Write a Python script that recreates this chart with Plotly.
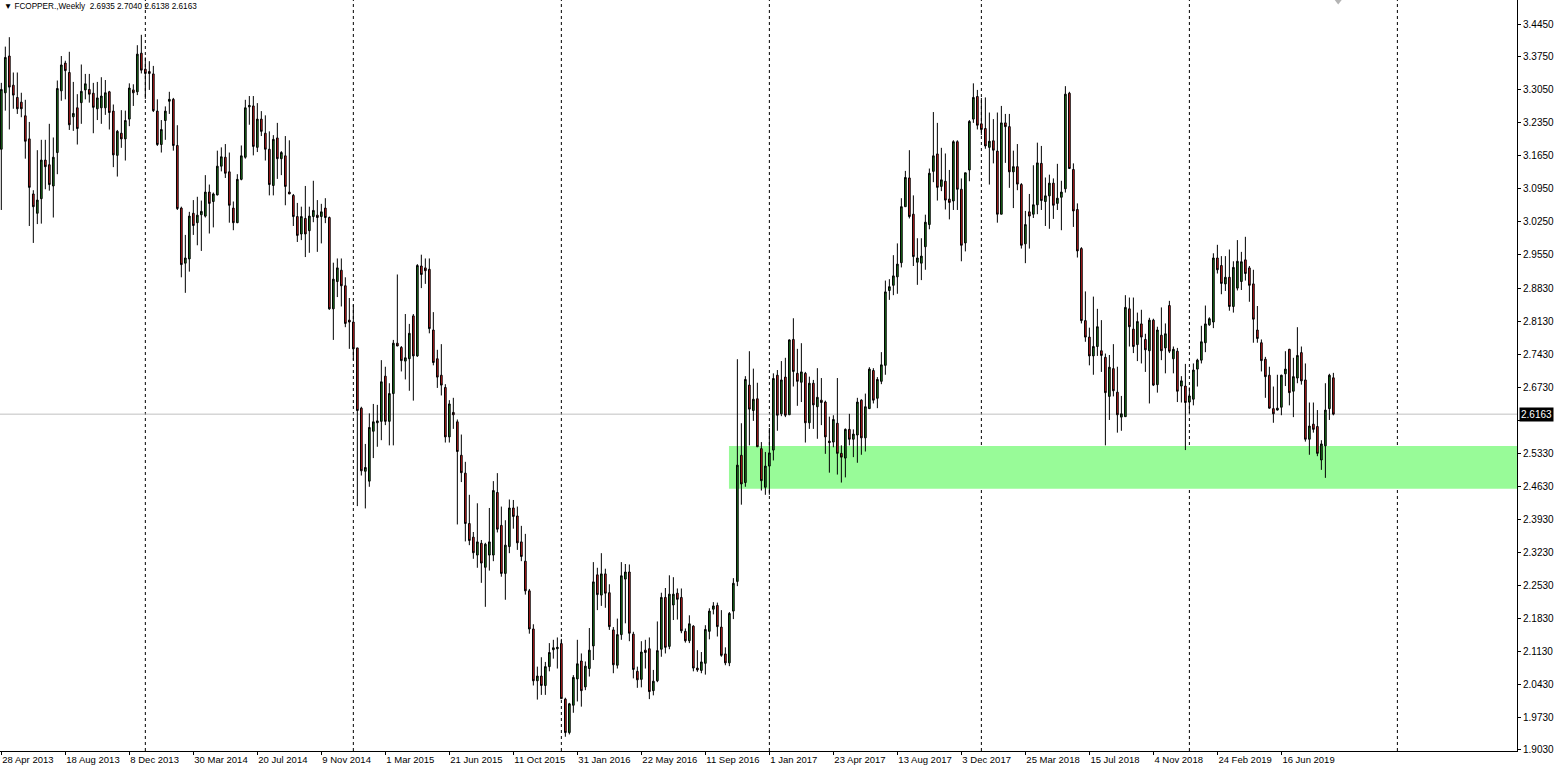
import pandas as pd
import plotly.graph_objects as go

# ---------------- data (weekly OHLC, FCOPPER) ----------------
start_date = "2013-04-28"

opens = [
    3.179, 3.299, 3.377, 3.315, 3.289, 3.279, 3.250, 3.201, 3.084, 3.043,
    3.074, 3.156, 3.146, 3.101, 3.172, 3.303, 3.362, 3.342, 3.248, 3.267,
    3.278, 3.305, 3.306, 3.298, 3.265, 3.267, 3.267, 3.301, 3.260, 3.166,
    3.213, 3.201, 3.243, 3.305, 3.301, 3.383, 3.349, 3.344, 3.339, 3.260,
    3.189, 3.240, 3.281, 3.285, 3.187, 3.054, 2.937, 2.946, 3.043, 3.023,
    3.040, 3.037, 3.088, 3.068, 3.082, 3.143, 3.162, 3.131, 3.054, 3.023,
    3.115, 3.162, 3.269, 3.271, 3.183, 3.243, 3.213, 3.179, 3.102, 3.203,
    3.159, 3.165, 3.088, 3.081, 3.036, 2.999, 3.032, 3.006, 3.036, 3.039,
    3.036, 3.054, 3.034, 2.840, 2.898, 2.922, 2.889, 2.816, 2.812, 2.757,
    2.629, 2.495, 2.474, 2.580, 2.598, 2.601, 2.697, 2.601, 2.660, 2.767,
    2.758, 2.729, 2.734, 2.825, 2.740, 2.931, 2.927, 2.924, 2.795, 2.734,
    2.699, 2.673, 2.568, 2.620, 2.600, 2.529, 2.491, 2.384, 2.355, 2.317,
    2.342, 2.291, 2.317, 2.317, 2.450, 2.380, 2.278, 2.335, 2.417, 2.400,
    2.345, 2.304, 2.241, 2.160, 2.050, 2.060, 2.040, 2.080, 2.116, 2.118,
    2.129, 2.011, 1.940, 1.998, 2.054, 2.092, 2.037, 2.076, 2.124, 2.275,
    2.232, 2.277, 2.237, 2.158, 2.083, 2.148, 2.266, 2.281, 2.149, 2.070,
    2.053, 2.115, 2.118, 2.029, 2.050, 2.117, 2.227, 2.123, 2.211, 2.236,
    2.227, 2.155, 2.135, 2.166, 2.077, 2.072, 2.087, 2.155, 2.202, 2.210,
    2.164, 2.107, 2.088, 2.198, 2.261, 2.529, 2.471, 2.678, 2.624, 2.649,
    2.543, 2.461, 2.506, 2.540, 2.699, 2.617, 2.695, 2.615, 2.775, 2.703,
    2.684, 2.703, 2.598, 2.682, 2.632, 2.646, 2.642, 2.559, 2.557, 2.597,
    2.533, 2.523, 2.584, 2.563, 2.572, 2.646, 2.566, 2.628, 2.709, 2.650,
    2.686, 2.720, 2.879, 2.890, 2.908, 2.938, 3.057, 3.118, 3.041, 2.939,
    2.937, 2.972, 3.019, 3.132, 3.169, 3.100, 3.111, 3.073, 3.069, 3.195,
    3.094, 2.980, 3.135, 3.243, 3.291, 3.233, 3.223, 3.183, 3.197, 3.175,
    3.041, 3.235, 3.227, 3.131, 3.142, 3.104, 2.978, 3.046, 3.041, 3.061,
    3.149, 3.068, 3.080, 3.107, 3.064, 3.077, 3.095, 3.298, 3.136, 3.051,
    2.968, 2.815, 2.780, 2.740, 2.760, 2.751, 2.737, 2.654, 2.713, 2.663,
    2.610, 2.611, 2.840, 2.797, 2.764, 2.808, 2.775, 2.751, 2.816, 2.679,
    2.784, 2.757, 2.847, 2.734, 2.750, 2.676, 2.676, 2.642, 2.648, 2.712,
    2.731, 2.768, 2.806, 2.812, 2.948, 2.932, 2.893, 2.907, 2.845, 2.884,
    2.898, 2.944, 2.927, 2.893, 2.795, 2.768, 2.733, 2.699, 2.628, 2.625,
    2.631, 2.702, 2.754, 2.665, 2.693, 2.747, 2.689, 2.563, 2.595, 2.590,
    2.519, 2.549, 2.628, 2.6935,
]
highs = [
    3.320, 3.397, 3.417, 3.342, 3.342, 3.299, 3.284, 3.237, 3.092, 3.177,
    3.199, 3.199, 3.233, 3.204, 3.325, 3.377, 3.367, 3.386, 3.322, 3.296,
    3.359, 3.339, 3.339, 3.320, 3.322, 3.332, 3.326, 3.303, 3.274, 3.220,
    3.262, 3.261, 3.319, 3.317, 3.400, 3.422, 3.374, 3.366, 3.356, 3.285,
    3.241, 3.270, 3.301, 3.288, 3.230, 3.057, 2.997, 3.046, 3.071, 3.078,
    3.070, 3.124, 3.104, 3.087, 3.176, 3.183, 3.190, 3.172, 3.068, 3.126,
    3.187, 3.284, 3.292, 3.292, 3.277, 3.260, 3.251, 3.217, 3.209, 3.235,
    3.175, 3.207, 3.198, 3.084, 3.065, 3.057, 3.101, 3.057, 3.112, 3.071,
    3.063, 3.075, 3.036, 2.938, 2.947, 2.947, 2.907, 2.863, 2.849, 2.757,
    2.632, 2.553, 2.618, 2.638, 2.636, 2.731, 2.717, 2.682, 2.774, 2.913,
    2.761, 2.829, 2.808, 2.829, 2.935, 2.955, 2.947, 2.947, 2.833, 2.753,
    2.765, 2.680, 2.646, 2.651, 2.605, 2.573, 2.515, 2.445, 2.366, 2.427,
    2.349, 2.343, 2.417, 2.474, 2.491, 2.420, 2.391, 2.435, 2.434, 2.420,
    2.379, 2.362, 2.245, 2.170, 2.080, 2.100, 2.090, 2.130, 2.137, 2.142,
    2.139, 2.014, 2.003, 2.062, 2.137, 2.108, 2.091, 2.162, 2.302, 2.290,
    2.321, 2.288, 2.255, 2.164, 2.182, 2.302, 2.298, 2.297, 2.154, 2.080,
    2.134, 2.137, 2.142, 2.073, 2.176, 2.237, 2.247, 2.274, 2.270, 2.246,
    2.246, 2.161, 2.189, 2.168, 2.115, 2.111, 2.168, 2.204, 2.217, 2.216,
    2.200, 2.121, 2.196, 2.268, 2.733, 2.597, 2.697, 2.750, 2.713, 2.683,
    2.557, 2.536, 2.587, 2.703, 2.710, 2.729, 2.736, 2.775, 2.820, 2.755,
    2.767, 2.706, 2.696, 2.689, 2.714, 2.693, 2.645, 2.611, 2.614, 2.693,
    2.550, 2.586, 2.617, 2.584, 2.651, 2.648, 2.660, 2.716, 2.714, 2.695,
    2.748, 2.900, 2.903, 2.954, 2.979, 3.075, 3.133, 3.177, 3.081, 2.990,
    2.990, 3.040, 3.138, 3.258, 3.235, 3.182, 3.170, 3.135, 3.198, 3.198,
    3.117, 3.129, 3.241, 3.319, 3.305, 3.288, 3.289, 3.257, 3.243, 3.257,
    3.271, 3.254, 3.254, 3.176, 3.190, 3.107, 3.048, 3.084, 3.145, 3.193,
    3.186, 3.119, 3.125, 3.117, 3.148, 3.112, 3.313, 3.301, 3.149, 3.064,
    2.971, 2.877, 2.800, 2.866, 2.840, 2.816, 2.745, 2.742, 2.765, 2.717,
    2.655, 2.869, 2.864, 2.864, 2.832, 2.838, 2.787, 2.821, 2.819, 2.802,
    2.843, 2.809, 2.857, 2.760, 2.757, 2.697, 2.723, 2.673, 2.724, 2.734,
    2.804, 2.847, 2.822, 2.958, 2.976, 2.952, 2.952, 2.966, 2.941, 2.986,
    2.961, 2.993, 2.931, 2.923, 2.846, 2.775, 2.738, 2.717, 2.675, 2.700,
    2.700, 2.750, 2.755, 2.736, 2.801, 2.760, 2.724, 2.641, 2.641, 2.625,
    2.561, 2.682, 2.702, 2.7040,
]
lows = [
    3.050, 3.261, 3.221, 3.265, 3.254, 3.247, 3.159, 3.016, 2.980, 3.020,
    3.021, 3.094, 3.091, 3.034, 3.126, 3.282, 3.285, 3.220, 3.218, 3.189,
    3.233, 3.285, 3.278, 3.213, 3.241, 3.233, 3.252, 3.221, 3.141, 3.121,
    3.182, 3.155, 3.228, 3.271, 3.294, 3.340, 3.286, 3.305, 3.258, 3.186,
    3.172, 3.199, 3.254, 3.176, 3.050, 2.907, 2.874, 2.919, 2.997, 2.975,
    2.963, 3.034, 3.000, 3.013, 3.081, 3.132, 3.118, 3.023, 3.007, 3.022,
    3.113, 3.159, 3.231, 3.166, 3.173, 3.207, 3.155, 3.081, 3.081, 3.116,
    3.124, 3.060, 3.084, 3.016, 2.982, 2.986, 2.950, 2.959, 3.024, 2.961,
    2.979, 3.022, 2.838, 2.774, 2.865, 2.845, 2.801, 2.755, 2.731, 2.421,
    2.486, 2.416, 2.462, 2.523, 2.547, 2.561, 2.593, 2.550, 2.550, 2.761,
    2.707, 2.690, 2.666, 2.645, 2.738, 2.884, 2.893, 2.788, 2.720, 2.672,
    2.656, 2.556, 2.556, 2.585, 2.382, 2.472, 2.346, 2.338, 2.309, 2.290,
    2.258, 2.207, 2.284, 2.304, 2.365, 2.271, 2.222, 2.321, 2.373, 2.328,
    2.304, 2.233, 2.150, 2.040, 2.010, 2.020, 2.020, 2.070, 2.097, 2.076,
    2.012, 1.931, 1.936, 1.982, 2.006, 1.995, 2.030, 2.059, 2.094, 2.200,
    2.209, 2.205, 2.158, 2.066, 2.076, 2.137, 2.172, 2.134, 2.055, 2.035,
    2.036, 2.076, 2.011, 2.019, 2.047, 2.101, 2.108, 2.117, 2.179, 2.180,
    2.151, 2.131, 2.130, 2.070, 2.069, 2.066, 2.063, 2.138, 2.191, 2.144,
    2.101, 2.083, 2.081, 2.181, 2.251, 2.424, 2.462, 2.550, 2.602, 2.547,
    2.454, 2.445, 2.445, 2.518, 2.581, 2.612, 2.610, 2.615, 2.675, 2.634,
    2.642, 2.556, 2.585, 2.585, 2.564, 2.593, 2.532, 2.492, 2.546, 2.488,
    2.471, 2.482, 2.550, 2.525, 2.513, 2.530, 2.537, 2.628, 2.639, 2.629,
    2.680, 2.700, 2.859, 2.869, 2.872, 2.928, 3.057, 3.032, 2.931, 2.891,
    2.901, 2.923, 3.009, 3.109, 3.070, 3.090, 3.051, 3.030, 3.050, 3.050,
    2.941, 2.962, 3.111, 3.235, 3.221, 3.209, 3.180, 3.104, 3.149, 3.023,
    3.041, 3.150, 3.097, 3.054, 3.092, 2.968, 2.937, 2.968, 3.033, 3.041,
    3.050, 3.016, 3.010, 3.031, 3.050, 3.007, 3.087, 3.138, 3.014, 2.949,
    2.809, 2.770, 2.720, 2.700, 2.740, 2.706, 2.550, 2.604, 2.654, 2.577,
    2.581, 2.611, 2.760, 2.746, 2.729, 2.724, 2.706, 2.639, 2.676, 2.662,
    2.731, 2.703, 2.746, 2.703, 2.642, 2.641, 2.540, 2.618, 2.635, 2.675,
    2.724, 2.748, 2.804, 2.799, 2.915, 2.871, 2.878, 2.836, 2.832, 2.879,
    2.880, 2.900, 2.855, 2.768, 2.768, 2.707, 2.651, 2.628, 2.598, 2.624,
    2.614, 2.676, 2.635, 2.610, 2.682, 2.679, 2.558, 2.530, 2.577, 2.527,
    2.498, 2.481, 2.604, 2.6138,
]
closes = [
    3.306, 3.374, 3.311, 3.294, 3.265, 3.265, 3.196, 3.098, 3.057, 3.071,
    3.156, 3.142, 3.104, 3.162, 3.308, 3.358, 3.346, 3.231, 3.255, 3.223,
    3.302, 3.318, 3.296, 3.268, 3.288, 3.292, 3.299, 3.257, 3.167, 3.217,
    3.201, 3.240, 3.309, 3.299, 3.381, 3.347, 3.340, 3.340, 3.261, 3.189,
    3.221, 3.260, 3.285, 3.187, 3.053, 2.934, 2.948, 3.037, 3.017, 3.039,
    3.047, 3.088, 3.064, 3.084, 3.143, 3.163, 3.128, 3.060, 3.023, 3.115,
    3.165, 3.267, 3.272, 3.185, 3.243, 3.217, 3.179, 3.104, 3.200, 3.159,
    3.172, 3.100, 3.084, 3.036, 2.996, 3.036, 2.999, 3.037, 3.049, 3.034,
    3.046, 3.034, 2.840, 2.903, 2.927, 2.889, 2.809, 2.812, 2.755, 2.624,
    2.496, 2.503, 2.588, 2.600, 2.602, 2.685, 2.601, 2.660, 2.767, 2.761,
    2.730, 2.736, 2.788, 2.740, 2.932, 2.913, 2.921, 2.798, 2.726, 2.695,
    2.678, 2.568, 2.638, 2.615, 2.537, 2.492, 2.384, 2.348, 2.322, 2.345,
    2.300, 2.340, 2.345, 2.454, 2.372, 2.278, 2.338, 2.417, 2.399, 2.343,
    2.314, 2.241, 2.160, 2.050, 2.060, 2.040, 2.080, 2.110, 2.120, 2.121,
    2.012, 1.940, 2.001, 2.057, 2.086, 2.029, 2.081, 2.115, 2.260, 2.233,
    2.277, 2.236, 2.165, 2.084, 2.148, 2.273, 2.281, 2.151, 2.074, 2.052,
    2.111, 2.110, 2.027, 2.049, 2.114, 2.227, 2.121, 2.234, 2.234, 2.223,
    2.156, 2.135, 2.171, 2.077, 2.073, 2.090, 2.159, 2.198, 2.209, 2.165,
    2.104, 2.088, 2.193, 2.257, 2.508, 2.468, 2.690, 2.627, 2.648, 2.547,
    2.475, 2.506, 2.534, 2.692, 2.614, 2.689, 2.614, 2.774, 2.707, 2.686,
    2.706, 2.598, 2.682, 2.636, 2.652, 2.641, 2.568, 2.556, 2.605, 2.533,
    2.525, 2.584, 2.563, 2.574, 2.642, 2.566, 2.632, 2.712, 2.646, 2.690,
    2.721, 2.876, 2.887, 2.910, 2.935, 3.057, 3.119, 3.036, 2.951, 2.948,
    2.952, 3.024, 3.128, 3.165, 3.098, 3.114, 3.071, 3.066, 3.195, 3.094,
    2.975, 3.129, 3.238, 3.289, 3.230, 3.221, 3.186, 3.196, 3.177, 3.041,
    3.235, 3.227, 3.131, 3.142, 3.105, 2.975, 3.019, 3.037, 3.061, 3.150,
    3.070, 3.080, 3.107, 3.060, 3.075, 3.088, 3.296, 3.138, 3.048, 2.963,
    2.815, 2.780, 2.740, 2.760, 2.802, 2.741, 2.662, 2.716, 2.666, 2.615,
    2.617, 2.843, 2.802, 2.760, 2.813, 2.780, 2.753, 2.816, 2.678, 2.795,
    2.751, 2.787, 2.750, 2.754, 2.665, 2.687, 2.641, 2.655, 2.710, 2.731,
    2.770, 2.808, 2.819, 2.948, 2.923, 2.894, 2.907, 2.845, 2.928, 2.941,
    2.940, 2.915, 2.890, 2.818, 2.777, 2.730, 2.696, 2.629, 2.617, 2.629,
    2.699, 2.712, 2.662, 2.696, 2.741, 2.687, 2.563, 2.591, 2.584, 2.533,
    2.553, 2.625, 2.699, 2.6163,
]

price_ticks = [3.4450, 3.3750, 3.3050, 3.2350, 3.1650, 3.0950, 3.0250, 2.9550,
               2.8830, 2.8130, 2.7430, 2.6730, 2.6030, 2.5330, 2.4630, 2.3930,
               2.3230, 2.2530, 2.1830, 2.1130, 2.0430, 1.9730, 1.9030]
current_price = 2.6163
zone_low, zone_high = 2.458, 2.5487
zone_start = "2016-10-23"
title_text = "FCOPPER.,Weekly  2.6935 2.7040 2.6138 2.6163"

# ---------------- build ----------------
n = len(closes)
dates = pd.date_range(start_date, periods=n, freq="7D")
idx = list(range(n))
future = pd.date_range(start_date, periods=380, freq="7D")
separators = [i for i in range(1, len(future)) if future[i].year != future[i - 1].year]
label_idx = list(range(0, n, 16))
label_txt = [f"{dates[i].day} {dates[i].strftime('%b %Y')}" for i in label_idx]
zone_idx = int(dates.get_loc(pd.Timestamp(zone_start)))

# the bid-price label box hides the tick label beneath it
tick_txt = ["" if abs(v - current_price) < 0.02 else f"{v:.4f}" for v in price_ticks]

FONT = "Liberation Sans, Arial, sans-serif"
x_lo, x_hi = -0.33, 378.9
y_lo, y_hi = 1.9008, 3.496

fig = go.Figure()
fig.add_trace(go.Candlestick(
    x=idx, open=opens, high=highs, low=lows, close=closes,
    increasing=dict(line=dict(color="black", width=1), fillcolor="#1c7f1c"),
    decreasing=dict(line=dict(color="black", width=1), fillcolor="#d61f1f"),
    whiskerwidth=0, hoverinfo="skip", showlegend=False,
))
# chart-shift marker (small grey triangle at the top edge)
fig.add_trace(go.Scatter(
    x=[n + 0.2], y=[y_hi], mode="markers", cliponaxis=False, hoverinfo="skip",
    marker=dict(symbol="triangle-down", size=9, color="#b4b4b4"), showlegend=False,
))

shapes = []
shapes.append(dict(type="rect", xref="x", yref="y", x0=zone_idx - 0.1, x1=x_hi,
                   y0=zone_low, y1=zone_high, fillcolor="#98fb98", line=dict(width=0),
                   layer="below"))
for s in separators:
    shapes.append(dict(type="line", xref="x", yref="paper", x0=s, x1=s, y0=0, y1=1,
                       line=dict(color="black", width=1, dash="3px,3px"), layer="below"))
shapes.append(dict(type="line", xref="paper", yref="y", x0=0, x1=1, y0=current_price,
                   y1=current_price, line=dict(color="#c0c0c0", width=1), layer="below"))

annotations = [
    dict(xref="paper", yref="paper", x=0.001, y=1.0, xanchor="left", yanchor="top",
         text="\u25BC " + title_text, showarrow=False, yshift=0,
         font=dict(family=FONT, size=8.2, color="black")),
    dict(xref="paper", yref="y", x=1.0, y=current_price, xanchor="left", yanchor="middle",
         text=f"{current_price:.4f}", showarrow=False, bgcolor="black",
         font=dict(family=FONT, size=10, color="white"), borderpad=1, xshift=2),
]

fig.update_layout(
    width=1559, height=769,
    margin=dict(l=0, r=42, t=0, b=18, autoexpand=False),
    paper_bgcolor="white", plot_bgcolor="white",
    shapes=shapes, annotations=annotations,
    boxgap=0.4, showlegend=False,
    xaxis=dict(range=[x_lo, x_hi], rangeslider=dict(visible=False), showgrid=False,
               zeroline=False, tickmode="array", tickvals=label_idx, ticktext=label_txt,
               tickangle=0, automargin=False,
               ticks="outside", ticklen=3, tickcolor="black", showline=True,
               linecolor="black", linewidth=1, ticklabelposition="outside right",
               tickfont=dict(family=FONT, size=9.5, color="black")),
    yaxis=dict(range=[y_lo, y_hi], side="right", showgrid=False, zeroline=False,
               tickmode="array", tickvals=price_ticks, ticktext=tick_txt,
               automargin=False, ticklabeloverflow="allow",
               ticks="outside", ticklen=3, tickcolor="black", showline=True,
               linecolor="black", linewidth=1,
               tickfont=dict(family=FONT, size=10, color="black")),
)

fig.write_html(
    "out.html",
    config={"displayModeBar": False},
    post_script="document.body.style.margin='0';document.body.style.overflow='hidden';",
)
